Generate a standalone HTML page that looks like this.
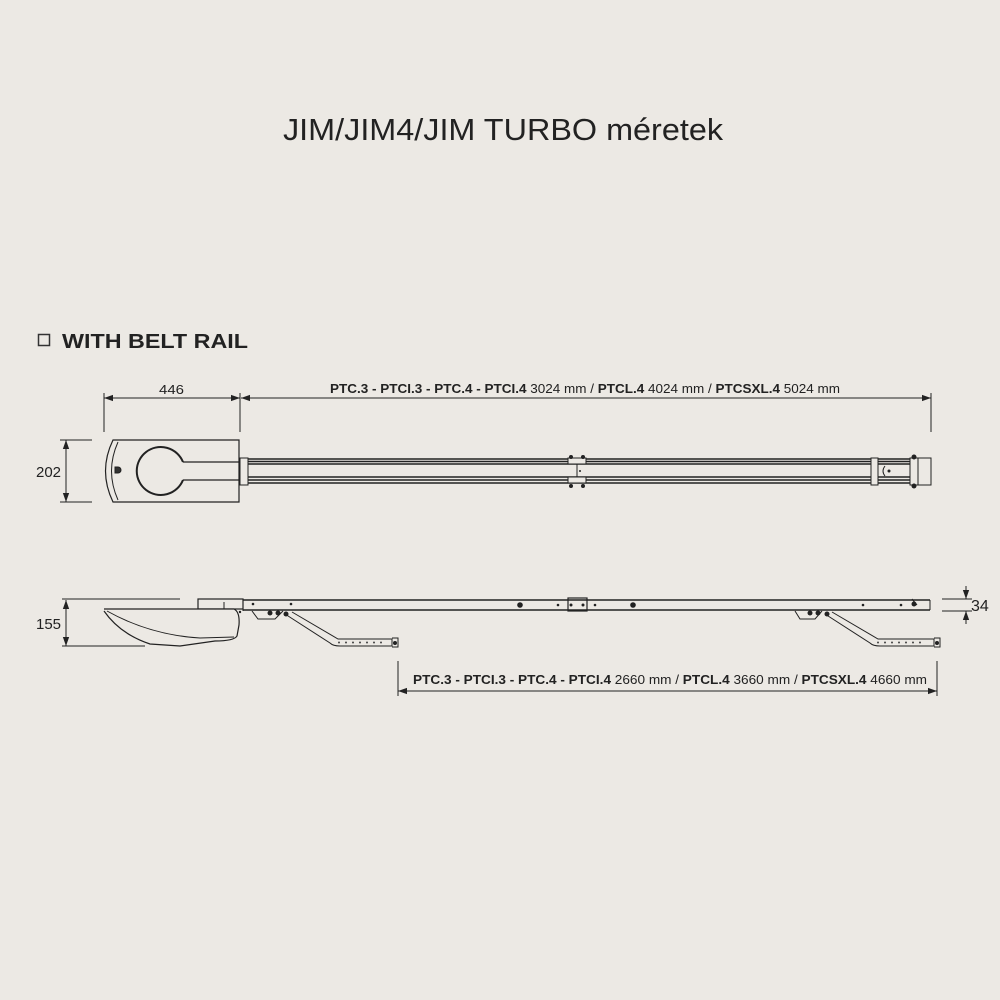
<!DOCTYPE html>
<html><head><meta charset="utf-8"><style>
html,body{margin:0;padding:0;background:#ece9e4;}
svg{display:block}
text{font-family:"Liberation Sans",sans-serif;fill:#222}
</style></head><body>
<svg width="1000" height="1000" viewBox="0 0 1000 1000" xmlns="http://www.w3.org/2000/svg">
<rect width="1000" height="1000" fill="#ece9e4"/>
<defs>
<marker id="a" viewBox="0 0 10 10" refX="10" refY="5" markerWidth="9" markerHeight="9" orient="auto-start-reverse" markerUnits="userSpaceOnUse"><path d="M0,1.5 L10,5 L0,8.5 z" fill="#222"/></marker>
</defs>
<text x="283" y="140" font-size="31" textLength="440" lengthAdjust="spacingAndGlyphs" fill="#111">JIM/JIM4/JIM TURBO méretek</text>
<rect x="38.5" y="334.5" width="11" height="11" fill="none" stroke="#333" stroke-width="1.5"/>
<text x="62" y="348" font-size="20" font-weight="bold" fill="#2b2b2b" textLength="186" lengthAdjust="spacingAndGlyphs">WITH BELT RAIL</text>

<g stroke="#222" stroke-width="1" fill="none">
<line x1="104" y1="393" x2="104" y2="432"/>
<line x1="240" y1="393" x2="240" y2="432"/>
<line x1="931" y1="393" x2="931" y2="432"/>
<line x1="104" y1="398" x2="240" y2="398" marker-start="url(#a)" marker-end="url(#a)"/>
<line x1="241" y1="398" x2="931" y2="398" marker-start="url(#a)" marker-end="url(#a)"/>
<line x1="60" y1="440" x2="92" y2="440"/>
<line x1="60" y1="502" x2="92" y2="502"/>
<line x1="66" y1="440" x2="66" y2="502" marker-start="url(#a)" marker-end="url(#a)"/>
<path d="M113,440 L239,440 L239,502 L113,502 Q98,471 113,440 Z" fill="#ece9e4" stroke-width="1.2"/>
<path d="M118,442 Q105,471 118,500"/>
<path d="M183,462 A24,24 0 1 0 183,480" stroke-width="2"/>
<path d="M183,462 L240,462 M183,480 L240,480" stroke-width="1.2"/>
<path d="M115,467 h3 a3,3 0 0 1 0,6 h-3 z" fill="#333"/>
<g stroke-width="1.4">
<line x1="240" y1="459" x2="918" y2="459"/><line x1="240" y1="461.5" x2="918" y2="461.5"/><line x1="240" y1="464" x2="918" y2="464"/>
<line x1="240" y1="477" x2="918" y2="477"/><line x1="240" y1="480" x2="918" y2="480"/><line x1="240" y1="483" x2="918" y2="483"/>
</g>
<rect x="240" y="458" width="8" height="27" fill="#ece9e4"/>
<rect x="568" y="458" width="18" height="6" fill="#ece9e4"/>
<rect x="568" y="477" width="18" height="6" fill="#ece9e4"/>
<line x1="577" y1="464" x2="577" y2="477"/>
<rect x="871" y="458" width="7" height="27" fill="#ece9e4"/>
<path d="M885,466 q-4,5 0,10"/>
<rect x="910" y="458" width="21" height="27" fill="#ece9e4"/>
<line x1="918" y1="458" x2="918" y2="485"/>
</g>
<g fill="#222">
<circle cx="571" cy="457" r="2"/><circle cx="583" cy="457" r="2"/><circle cx="571" cy="486" r="2"/><circle cx="583" cy="486" r="2"/>
<circle cx="889" cy="471" r="1.5"/><circle cx="914" cy="457" r="2.5"/><circle cx="914" cy="486" r="2.5"/><circle cx="580" cy="471" r="1"/>
</g>

<g stroke="#222" stroke-width="1" fill="none">
<line x1="62" y1="599" x2="180" y2="599"/>
<line x1="62" y1="646" x2="145" y2="646"/>
<line x1="66" y1="600" x2="66" y2="646" marker-start="url(#a)" marker-end="url(#a)"/>
<line x1="942" y1="599" x2="972" y2="599"/>
<line x1="942" y1="611" x2="972" y2="611"/>
<line x1="966" y1="586" x2="966" y2="599" marker-end="url(#a)"/>
<line x1="966" y1="624" x2="966" y2="611" marker-end="url(#a)"/>
<line x1="398" y1="661" x2="398" y2="696"/>
<line x1="937" y1="661" x2="937" y2="696"/>
<line x1="398" y1="691" x2="937" y2="691" marker-start="url(#a)" marker-end="url(#a)"/>
<rect x="198" y="599" width="45" height="10" fill="#ece9e4" stroke-width="1.2"/>
<line x1="224" y1="602" x2="224" y2="609"/>
<line x1="243" y1="600" x2="930" y2="600" stroke-width="1.6"/>
<line x1="243" y1="610" x2="930" y2="610" stroke-width="1.6"/>
<line x1="930" y1="600" x2="930" y2="610"/>
<line x1="243" y1="599" x2="243" y2="611"/>
<rect x="568" y="598" width="19" height="13" stroke-width="1.2"/>
<path d="M104,609 L234,609 Q240,612 239,625 L237,636 Q234,641 215,641 L180,646 L150,644 Q120,634 104,611" fill="#ece9e4" stroke-width="1.2"/>
<path d="M107,611 Q150,635 200,638 L234,637"/>
<path d="M252,611 L258,619 L275,619 L283,611"/>
<path d="M285,614 L330,643 Q333,646 340,646 L392,646 L392,639 L338,639 L292,612"/>
<path d="M392,638 L398,638 L398,647 L392,647"/>
<path d="M795,611 L800,619 L815,619 L822,611"/>
<path d="M825,614 L870,643 Q873,646 880,646 L934,646 L934,639 L878,639 L832,612"/>
<path d="M934,638 L940,638 L940,647 L934,647"/>
<path d="M912,599 L917,605" />
</g>
<g fill="#222">
<circle cx="253" cy="604" r="1.3"/><circle cx="291" cy="604" r="1.3"/>
<circle cx="520" cy="605" r="2.8"/><circle cx="633" cy="605" r="2.8"/><circle cx="558" cy="605" r="1.3"/><circle cx="595" cy="605" r="1.3"/><circle cx="571" cy="605" r="1.5"/><circle cx="583" cy="605" r="1.5"/>
<circle cx="863" cy="605" r="1.3"/><circle cx="901" cy="605" r="1.3"/><circle cx="914" cy="604" r="2.5"/>
<circle cx="270" cy="613" r="2.5"/><circle cx="278" cy="613" r="2.5"/><circle cx="286" cy="614" r="2.5"/>
<circle cx="810" cy="613" r="2.5"/><circle cx="818" cy="613" r="2.5"/><circle cx="827" cy="614" r="2.5"/>
<circle cx="395" cy="643" r="2"/><circle cx="937" cy="643" r="2"/>
<circle cx="240" cy="612" r="1.2"/>
</g>
<g fill="#444">
<circle cx="339" cy="642.5" r="1"/><circle cx="346" cy="642.5" r="1"/><circle cx="353" cy="642.5" r="1"/><circle cx="360" cy="642.5" r="1"/><circle cx="367" cy="642.5" r="1"/><circle cx="374" cy="642.5" r="1"/><circle cx="381" cy="642.5" r="1"/>
<circle cx="878" cy="642.5" r="1"/><circle cx="885" cy="642.5" r="1"/><circle cx="892" cy="642.5" r="1"/><circle cx="899" cy="642.5" r="1"/><circle cx="906" cy="642.5" r="1"/><circle cx="913" cy="642.5" r="1"/><circle cx="920" cy="642.5" r="1"/>
</g>

<g font-size="13">
<text x="159" y="394" textLength="25" lengthAdjust="spacingAndGlyphs">446</text>
<text x="330" y="393" textLength="510" lengthAdjust="spacingAndGlyphs"><tspan font-weight="bold">PTC.3 - PTCI.3 - PTC.4 - PTCI.4</tspan> 3024 mm / <tspan font-weight="bold">PTCL.4</tspan> 4024 mm / <tspan font-weight="bold">PTCSXL.4</tspan> 5024 mm</text>
<text x="36" y="477" font-size="15">202</text>
<text x="36" y="629" font-size="15">155</text>
<text x="971" y="611" font-size="16">34</text>
<text x="413" y="684" textLength="514" lengthAdjust="spacingAndGlyphs"><tspan font-weight="bold">PTC.3 - PTCI.3 - PTC.4 - PTCI.4</tspan> 2660 mm / <tspan font-weight="bold">PTCL.4</tspan> 3660 mm / <tspan font-weight="bold">PTCSXL.4</tspan> 4660 mm</text>
</g>
</svg>
</body></html>
